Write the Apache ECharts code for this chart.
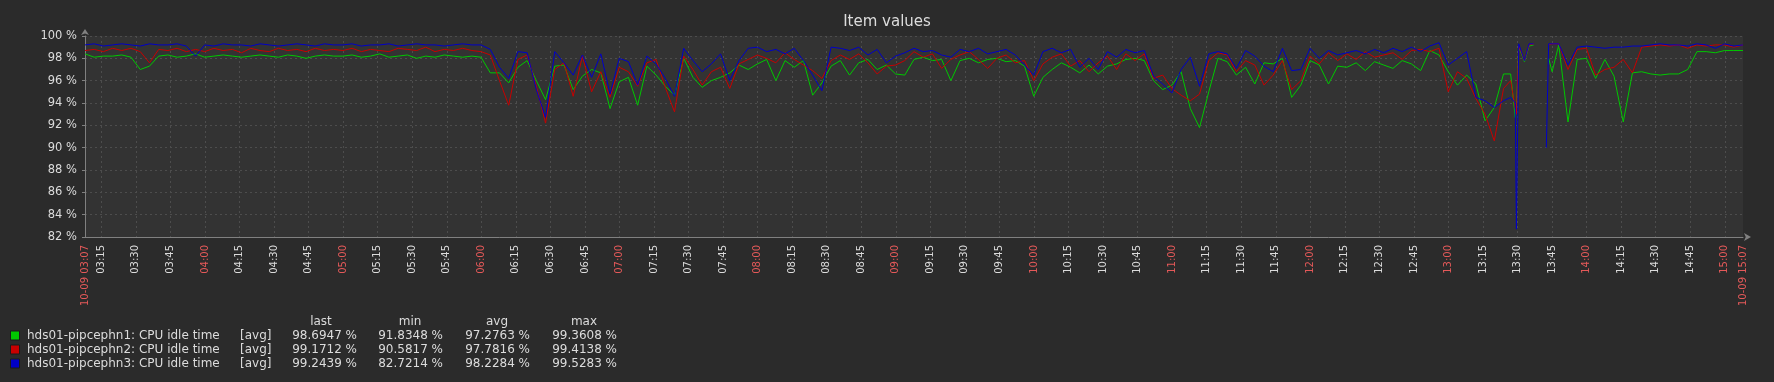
<!DOCTYPE html>
<html><head><meta charset="utf-8">
<script src="https://cdn.jsdelivr.net/npm/echarts@6/dist/echarts.min.js"></script>
<style>html,body{margin:0;padding:0;background:#2b2b2b}#c{width:1774px;height:382px}</style>
</head><body><div id="c"></div>
<script>
// ---- time base (minutes since midnight, 2 Oct 09) ----
const startMin = 187.9;   // 03:07:54
const endMin = 907.9;     // 15:07:54
const stepMin = 4;
// extra sample times around the 13:30 outage
const windowTimes = [807, 809, 809.5, 810.5, 813, 815, 817, 820, 822.5, 823.5, 825];

const seriesNames = ['hds01-pipcephn1: CPU idle time', 'hds01-pipcephn2: CPU idle time', 'hds01-pipcephn3: CPU idle time'];

const green = [
  98.4, 98.1, 98.2, 98.2, 98.3, 98.1, 97.0, 97.3, 98.2, 98.3, 98.1, 98.2, 98.4,
  98.1, 98.2, 98.3, 98.2, 98.1, 98.2, 98.3, 98.2, 98.1, 98.3, 98.2, 98.0, 98.2, 98.3, 98.2,
  98.2, 98.3, 98.1, 98.2, 98.4, 98.1, 98.2, 98.3, 98.0, 98.2, 98.1, 98.3, 98.2, 98.1, 98.2,
  98.1, 96.7, 96.7, 95.8, 97.2, 97.8, 96.0, 94.3, 97.3, 97.4, 95.2, 96.4, 97.0, 96.7, 93.5,
  95.9, 96.3, 93.8, 97.3, 96.5, 95.5, 94.7, 98.0, 96.3, 95.4, 96.0, 96.3, 96.7, 97.4, 97.0,
  97.5, 97.9, 96.0, 97.8, 97.2, 97.8, 94.7, 95.8, 97.3, 97.8, 96.5, 97.6, 97.9, 97.0, 97.4,
  96.6, 96.5, 97.9, 98.1, 97.8, 97.9, 96.0, 97.8, 98.0, 97.6, 97.9, 98.0, 97.7, 97.8, 97.3,
  94.6, 96.3, 97.0, 97.6, 97.2, 96.7, 97.4, 96.6, 97.3, 97.5, 97.9, 98.0, 97.8, 96.0, 95.2,
  95.6, 96.8, 93.5, 91.8, 95.0, 98.0, 97.7, 96.5, 97.2, 95.7, 97.6, 97.5, 98.0, 94.5, 95.6,
  97.8, 97.4, 95.7, 97.3, 97.2, 97.6, 96.9, 97.7, 97.4, 97.1, 97.8, 97.5, 96.9, 98.7, 98.3,
  96.8, 95.6, 96.5, 95.7, 92.4, 93.6, 96.6,
  96.6, 92.7, 93.5, 99.0, 97.7, 99.1, 99.2, null, null, 98.0, 96.8,
  99.2, 92.3, 97.9, 98.0, 96.2, 97.9, 96.4, 92.3, 96.7, 96.8, 96.6, 96.5, 96.6, 96.6, 97.0, 98.6, 98.6, 98.5, 98.7, 98.7, 98.7
];
const red = [
  98.7, 98.8, 98.6, 98.9, 98.7, 98.9, 98.6, 97.6, 98.8, 98.7, 98.9, 98.6, 98.8,
  98.6, 98.9, 98.7, 98.8, 98.5, 98.9, 98.7, 98.6, 98.9, 98.7, 98.8, 98.6, 98.9, 98.7, 98.8,
  98.7, 98.9, 98.6, 98.8, 98.7, 98.6, 98.9, 98.8, 98.7, 99.0, 98.6, 98.8, 98.7, 98.9, 98.7,
  98.6, 98.3, 96.0, 93.8, 97.9, 98.3, 95.5, 92.2, 97.0, 97.6, 94.6, 98.2, 95.0, 96.8, 94.5,
  97.2, 96.8, 95.5, 97.6, 97.9, 95.4, 93.2, 98.2, 97.0, 95.6, 96.8, 97.2, 95.3, 97.5, 97.9,
  98.3, 98.0, 97.6, 98.5, 97.9, 97.4, 96.9, 96.2, 97.8, 98.3, 97.9, 98.4, 97.6, 96.6, 97.3,
  97.4, 97.8, 98.6, 98.1, 98.4, 97.1, 97.9, 98.3, 98.6, 97.9, 97.1, 98.0, 98.3, 97.6, 97.8,
  96.0, 97.5, 98.1, 98.4, 97.3, 97.8, 96.8, 97.6, 98.2, 97.0, 98.4, 97.8, 98.4, 96.2, 96.5,
  95.3, 94.7, 94.2, 94.8, 97.8, 98.5, 98.3, 96.8, 97.8, 97.4, 95.6, 96.5, 97.8, 95.2, 96.0,
  98.2, 97.5, 98.5, 97.8, 98.4, 97.9, 98.6, 98.1, 98.3, 98.5, 97.9, 98.7, 98.8, 98.6, 98.9,
  95.0, 96.8, 96.2, 94.4, 93.0, 90.6, 95.3,
  96.0, 93.5, 93.0, 99.1, 97.8, 99.2, 99.3, null, null, 99.2, 99.3,
  99.3, 97.0, 98.8, 98.9, 96.5, 97.0, 97.2, 97.9, 96.7, 99.0, 99.1, 99.2, 99.1, 99.2, 98.9, 99.2, 99.1, 99.2, 99.2, 99.0, 99.2
];
const blue = [
  99.2, 99.3, 99.1, 99.2, 99.3, 99.2, 99.1, 99.3, 99.2, 99.2, 99.3, 99.1, 98.2,
  99.2, 99.1, 99.3, 99.2, 99.2, 99.1, 99.3, 99.2, 99.1, 99.2, 99.3, 99.2, 99.1, 99.3, 99.2,
  99.2, 99.3, 99.1, 99.2, 99.2, 99.3, 99.1, 99.2, 99.3, 99.2, 99.2, 99.1, 99.2, 99.3, 99.2,
  99.2, 98.8, 97.2, 96.2, 98.6, 98.5, 95.2, 92.7, 98.6, 97.6, 96.5, 98.3, 96.3, 98.4, 94.8,
  98.0, 97.7, 95.6, 98.2, 97.5, 96.2, 94.6, 98.9, 97.8, 96.8, 97.5, 98.4, 96.0, 97.8, 98.9,
  99.0, 98.6, 98.8, 98.4, 98.9, 97.8, 96.5, 95.1, 99.0, 98.9, 98.7, 99.0, 98.3, 98.8, 97.6,
  98.2, 98.5, 98.9, 98.6, 98.7, 98.3, 98.1, 98.8, 98.6, 98.9, 98.4, 98.6, 98.8, 98.3, 97.4,
  96.5, 98.6, 98.9, 98.5, 98.8, 97.2, 98.0, 97.0, 98.6, 98.1, 98.8, 98.5, 98.7, 96.4, 95.7,
  94.9, 97.0, 98.1, 95.5, 98.4, 98.6, 98.4, 97.1, 98.7, 98.2, 97.3, 96.8, 98.9, 96.9, 97.0,
  98.9, 98.0, 98.7, 98.3, 98.5, 98.7, 98.4, 98.8, 98.5, 98.9, 98.6, 99.0, 98.6, 99.1, 99.4,
  97.4, 98.0, 98.6, 94.5, 94.2, 93.6, 94.2,
  94.5, 94.0, 82.7, 99.3, 97.8, 99.3, 99.3, null, 90.0, 99.3, 99.3,
  99.3, 97.4, 99.0, 99.1, 99.0, 98.9, 99.0, 99.0, 99.1, 99.1, 99.2, 99.3, 99.2, 99.2, 99.1, 99.3, 99.2, 98.9, 99.3, 99.1, 99.2
];

const statHeaders = ['last', 'min', 'avg', 'max'];
const lastVals = [98.6947, 99.1712, 99.2439];
const minVals = [91.8348, 90.5817, 82.7214];
const avgVals = [97.2763, 97.7816, 98.2284];
const maxVals = [99.3608, 99.4138, 99.5283];
const yTicks = { min: 82, max: 100, step: 2 };
const tickMinutes = [195, 210, 225, 240, 255, 270, 285, 300, 315, 330, 345, 360, 375, 390, 405, 420, 435, 450, 465, 480,
  495, 510, 525, 540, 555, 570, 585, 600, 615, 630, 645, 660, 675, 690, 705, 720, 735, 750, 765, 780, 795, 810, 825, 840,
  855, 870, 885, 900];
const dateLabel = '10-09';

// ---- build sample times ----
const times = [];
for (let i = 0; i <= 154; i++) times.push(Math.round((startMin + stepMin * i) * 10) / 10);
times.push(...windowTimes);
for (let i = 160; i <= 180; i++) times.push(Math.round((startMin + stepMin * i) * 10) / 10);

const colors = ['#00c800', '#c80000', '#0000c8'];
const FONT = '"DejaVu Sans", sans-serif';
const TXT = '#dcdcdc';
const RED = '#e45959';

function hhmm(m) {
  const t = Math.floor(m + 1e-6);
  const h = Math.floor(t / 60), mm = t % 60;
  return String(h).padStart(2, '0') + ':' + String(mm).padStart(2, '0');
}

const chart = echarts.init(document.getElementById('c'), null, { renderer: 'canvas' });

const graphics = [];
const rowY = [335.5, 349.5, 363.5];
const colRight = [357, 443, 530, 617];
const colCenter = [321, 410, 497, 584];
statHeaders.forEach((h, k) => graphics.push({
  type: 'text', x: colCenter[k], y: 321.5,
  style: { text: h, fill: TXT, font: '12px ' + FONT, textAlign: 'center', textVerticalAlign: 'middle', align: 'center', verticalAlign: 'middle' }
}));
seriesNames.forEach((name, s) => {
  graphics.push({ type: 'rect', shape: { x: 10.5, y: rowY[s] - 4.5, width: 9, height: 9 },
    style: { fill: colors[s], stroke: '#1a1a1a', lineWidth: 1 } });
  graphics.push({ type: 'text', x: 27, y: rowY[s],
    style: { text: name, fill: TXT, font: '12px ' + FONT, textAlign: 'left', textVerticalAlign: 'middle', align: 'left', verticalAlign: 'middle' } });
  graphics.push({ type: 'text', x: 240, y: rowY[s],
    style: { text: '[avg]', fill: TXT, font: '12px ' + FONT, textAlign: 'left', textVerticalAlign: 'middle', align: 'left', verticalAlign: 'middle' } });
  [lastVals, minVals, avgVals, maxVals].forEach((arr, k) => graphics.push({
    type: 'text', x: colRight[k], y: rowY[s],
    style: { text: arr[s].toFixed(4) + ' %', fill: TXT, font: '12px ' + FONT, textAlign: 'right', textVerticalAlign: 'middle', align: 'right', verticalAlign: 'middle' }
  }));
});

const option = {
  backgroundColor: '#2b2b2b',
  animation: false,
  textStyle: { fontFamily: FONT },
  title: {
    text: 'Item values', left: 'center', top: 10,
    textStyle: { color: TXT, fontSize: 15, fontWeight: 'normal', fontFamily: FONT }
  },
  grid: { left: 85, right: 31, top: 36, height: 201, show: true, backgroundColor: '#333333', borderWidth: 0 },
  xAxis: {
    type: 'value', min: startMin, max: endMin,
    axisLine: { show: true, onZero: false, lineStyle: { color: '#808080', width: 1 },
      symbol: ['none', 'arrow'], symbolSize: [6, 7], symbolOffset: [0, 8] },
    axisTick: { show: false, customValues: tickMinutes },
    splitLine: { show: true, lineStyle: { color: '#4d4d4d', type: [2, 3], width: 1 } },
    axisLabel: {
      customValues: [startMin].concat(tickMinutes, [endMin]),
      rotate: 90, margin: 8, fontSize: 10, fontFamily: FONT, color: TXT,
      formatter: function (v) {
        if (Math.abs(v - startMin) < 0.01 || Math.abs(v - endMin) < 0.01) return '{r|' + dateLabel + ' ' + hhmm(v) + '}';
        const t = Math.round(v);
        return (t % 60 === 0 ? '{r|' : '{w|') + hhmm(t) + '}';
      },
      rich: {
        r: { color: RED, fontSize: 10, fontFamily: FONT },
        w: { color: TXT, fontSize: 10, fontFamily: FONT }
      }
    }
  },
  yAxis: {
    type: 'value', min: yTicks.min, max: yTicks.max, interval: yTicks.step,
    axisLine: { show: true, lineStyle: { color: '#808080', width: 1 },
      symbol: ['none', 'arrow'], symbolSize: [6, 6], symbolOffset: [0, 7] },
    axisTick: { show: true, length: 3, lineStyle: { color: '#808080' } },
    splitLine: { show: true, lineStyle: { color: '#4d4d4d', type: [2, 3], width: 1 } },
    axisLabel: { color: TXT, fontSize: 11.5, fontFamily: FONT, margin: 8, formatter: '{value} %' }
  },
  series: [green, red, blue].map((arr, s) => ({
    name: seriesNames[s], type: 'line', symbol: 'none', showSymbol: false,
    connectNulls: false, clip: true,
    lineStyle: { color: colors[s], width: 1 }, itemStyle: { color: colors[s] },
    data: times.map((t, i) => [t, arr[i]]),
    z: 2 + s
  })),
  graphic: graphics
};
chart.setOption(option);
console.log(times.length, green.length, red.length, blue.length);
</script></body></html>
